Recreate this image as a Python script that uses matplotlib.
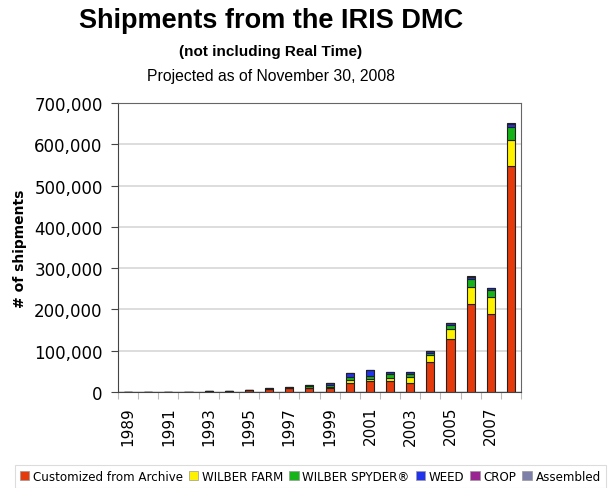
import matplotlib
matplotlib.use("Agg")
import matplotlib.pyplot as plt
from matplotlib.patches import Patch
from matplotlib.ticker import FuncFormatter
import numpy as np

years = list(range(1989, 2009))
archive = [100, 200, 300, 800, 2000, 3000, 5000, 6500, 8500, 9000,
           9000, 23000, 26000, 27000, 23000, 72000, 128000, 212000, 190000, 547000]
wilber_farm = [0, 0, 0, 0, 0, 0, 0, 0, 0, 1500,
               3000, 6000, 5000, 8000, 14000, 18000, 24000, 43000, 39000, 64000]
wilber_spyder = [0, 0, 0, 0, 0, 0, 1000, 1500, 2000, 4000,
                 6000, 8000, 8000, 9000, 6000, 5000, 10000, 19000, 17000, 32000]
weed = [0, 0, 0, 0, 0, 0, 0, 500, 1000, 2000,
        3000, 8000, 14000, 4000, 6000, 4000, 5000, 5000, 5000, 5000]
crop = [0, 0, 0, 0, 0, 0, 0, 0, 0, 0,
        0, 0, 0, 0, 0, 0, 0, 0, 0, 500]
assembled = [0, 0, 0, 0, 0, 0, 0, 0, 0, 0,
             0, 0, 0, 0, 0, 0, 0, 1000, 1000, 2000]

series = [
    ("Customized from Archive", archive, "#e43a0c"),
    ("WILBER FARM", wilber_farm, "#fff200"),
    ("WILBER SPYDER\u00ae", wilber_spyder, "#16b418"),
    ("WEED", weed, "#2233ee"),
    ("CROP", crop, "#9a2491"),
    ("Assembled", assembled, "#7d80a8"),
]

fig = plt.figure(figsize=(6.16, 4.89), dpi=100)
ax = fig.add_axes([118 / 616, 1 - 393 / 489, 403 / 616, 289 / 489])

x = np.arange(len(years))
bottom = np.zeros(len(years))
for name, vals, col in series:
    vals = np.array(vals, dtype=float)
    ax.bar(x, vals, 0.4, bottom=bottom, color=col, edgecolor="#222222",
           linewidth=0.8, zorder=3)
    bottom += vals

ax.set_xlim(-0.5, len(years) - 0.5)
ax.set_ylim(0, 700000)
ax.set_yticks(range(0, 700001, 100000))
ax.yaxis.set_major_formatter(FuncFormatter(lambda v, p: f"{int(v):,}"))
ax.tick_params(axis="y", labelsize=12, length=5, color="#444444", pad=6)
ax.grid(axis="y", color="#dddddd", linewidth=1.4, zorder=0)

# tick marks at category boundaries, labels every other year
ax.set_xticks(np.arange(len(years) + 1) - 0.5)
ax.set_xticklabels([])
ax.tick_params(axis="x", which="major", length=5, color="#bbbbbb")
ax.set_xticks(x[::2], minor=True)
ax.set_xticklabels([str(y) for y in years[::2]], minor=True, rotation=90,
                   fontsize=11)
ax.tick_params(axis="x", which="minor", length=0, pad=10)

for side in ["left", "bottom"]:
    ax.spines[side].set_color("#444444")
for side in ["top", "right"]:
    ax.spines[side].set_color("#666666")

ax.set_ylabel("# of shipments", fontsize=10, fontweight="bold")
ax.yaxis.set_label_coords((27 - 118) / 403, 0.5)

fig.text(271 / 616, 1 - 21 / 489, "Shipments from the IRIS DMC",
         family="Liberation Sans", fontsize=19.5, fontweight="bold",
         ha="center", va="center")
fig.text(271 / 616, 1 - 52 / 489, "(not including Real Time)",
         family="Liberation Sans", fontsize=11, fontweight="bold",
         ha="center", va="center")
fig.text(271 / 616, 1 - 76 / 489, "Projected as of November 30, 2008",
         family="Liberation Sans", fontsize=11.3, ha="center", va="center")

handles = [Patch(facecolor=col, edgecolor="#999999", linewidth=0.5, label=name)
           for name, vals, col in series]
leg = fig.legend(handles=handles, loc="upper left", ncol=6,
                 bbox_to_anchor=(15 / 616, 1 - 466 / 489), fontsize=8.6,
                 handlelength=0.8, handleheight=0.8, handletextpad=0.3,
                 columnspacing=0.5, borderpad=0.4, fancybox=False,
                 frameon=True, edgecolor="#d4d4d4", borderaxespad=0)
leg.get_frame().set_linewidth(0.8)

fig.savefig("out.png", dpi=100)
